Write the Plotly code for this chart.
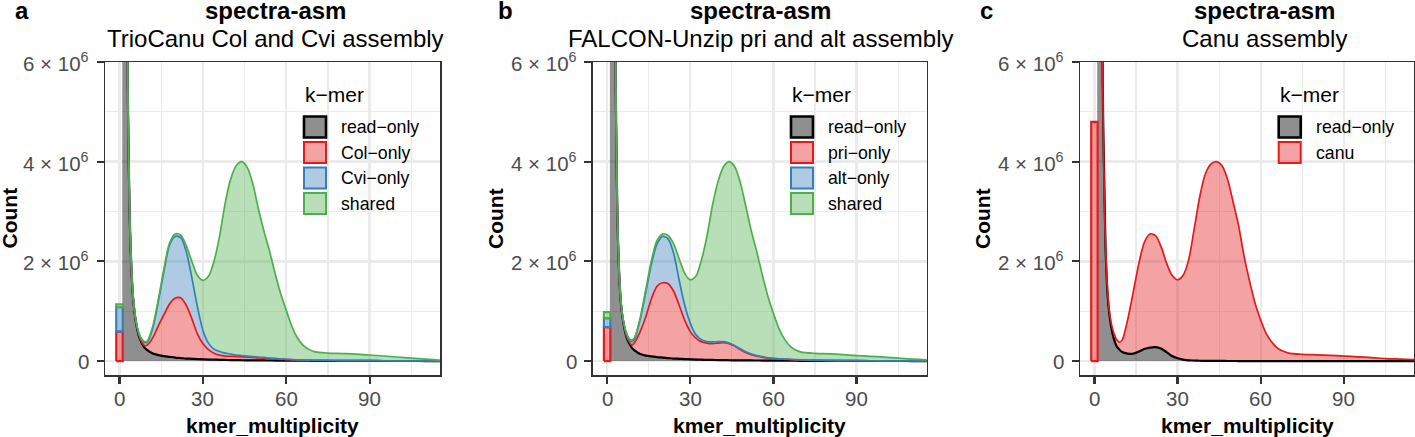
import numpy as np
import plotly.graph_objects as go

# ---------------- data (counts in millions of k-mers) ----------------
kmer_multiplicity = [1, 2, 3, 4, 5, 6, 7, 8, 9, 10,
                     12, 14, 16, 18, 20, 22, 24, 26, 28, 30,
                     32, 34, 36, 38, 40, 42, 44, 46, 48, 50,
                     52, 54, 56, 58, 60, 62, 64, 66, 68, 70,
                     75, 80, 85, 90, 95, 100, 105, 110, 115, 120]

# panel a: TrioCanu Col and Cvi assembly
a_read_only = [60, 20, 5.5, 2.3, 1.2, 0.75, 0.5, 0.36, 0.27, 0.22,
               0.15, 0.12, 0.10, 0.085, 0.07, 0.06, 0.05, 0.045, 0.04, 0.035,
               0.03, 0.028, 0.025, 0.022, 0.02, 0.018, 0.016, 0.015, 0.014, 0.013,
               0.012, 0.011, 0.01, 0.01, 0.009, 0.008, 0.007, 0.006, 0.006, 0.005,
               0.004, 0.003, 0.002, 0.002, 0.001, 0.001, 0.001, 0, 0, 0]
a_col_only = [0.05, 0.05, 0.03, 0.02, 0.02, 0.02, 0.02, 0.02, 0.04, 0.10,
              0.32, 0.59, 0.83, 1.06, 1.19, 1.21, 1.07, 0.81, 0.51, 0.315,
              0.20, 0.13, 0.095, 0.078, 0.075, 0.072, 0.069, 0.065, 0.061, 0.052,
              0.048, 0.039, 0.035, 0.025, 0.021, 0.017, 0.013, 0.011, 0.009, 0.008,
              0.007, 0.006, 0.005, 0.005, 0.004, 0.003, 0.003, 0.002, 0.002, 0.001]
a_cvi_only = [0.01, 0.01, 0.01, 0.01, 0.01, 0.01, 0.02, 0.04, 0.06, 0.06,
              0.19, 0.49, 0.87, 1.18, 1.24, 1.21, 1.08, 0.83, 0.55, 0.27,
              0.13, 0.082, 0.07, 0.06, 0.045, 0.03, 0.025, 0.02, 0.015, 0.015,
              0.012, 0.01, 0.008, 0.006, 0.005, 0.004, 0.003, 0.003, 0.002, 0.002,
              0.001, 0.001, 0.001, 0.001, 0.001, 0.001, 0, 0, 0, 0]
a_shared = [0.01, 0.01, 0.01, 0.01, 0.01, 0.01, 0.02, 0.02, 0.02, 0.02,
            0.04, 0.04, 0.05, 0.04, 0.05, 0.05, 0.12, 0.32, 0.62, 1.0,
            1.34, 1.76, 2.31, 3.0, 3.51, 3.80, 3.89, 3.78, 3.46, 2.97,
            2.53, 2.14, 1.70, 1.31, 0.985, 0.67, 0.445, 0.30, 0.222, 0.175,
            0.148, 0.14, 0.132, 0.113, 0.095, 0.076, 0.056, 0.038, 0.018, 0.008]
a_zero_counts = [0.59, 0.49, 0.06]          # Col-only, Cvi-only, shared at multiplicity 0

# panel b: FALCON-Unzip pri and alt assembly
b_read_only = [60, 20, 6.2, 2.3, 1.15, 0.72, 0.48, 0.35, 0.26, 0.21,
               0.14, 0.11, 0.095, 0.08, 0.07, 0.06, 0.05, 0.045, 0.04, 0.035,
               0.03, 0.027, 0.024, 0.022, 0.02, 0.018, 0.016, 0.015, 0.014, 0.013,
               0.012, 0.011, 0.01, 0.01, 0.009, 0.008, 0.007, 0.006, 0.006, 0.005,
               0.004, 0.003, 0.002, 0.002, 0.001, 0.001, 0.001, 0, 0, 0]
b_pri_only = [0.05, 0.05, 0.03, 0.02, 0.02, 0.02, 0.03, 0.03, 0.06, 0.17,
              0.46, 0.79, 1.155, 1.42, 1.50, 1.49, 1.35, 1.075, 0.78, 0.555,
              0.43, 0.363, 0.336, 0.328, 0.34, 0.352, 0.334, 0.285, 0.216, 0.157,
              0.118, 0.089, 0.07, 0.05, 0.041, 0.032, 0.028, 0.024, 0.019, 0.015,
              0.011, 0.007, 0.006, 0.004, 0.004, 0.003, 0.002, 0.002, 0.002, 0.001]
b_alt_only = [0.01, 0.01, 0.01, 0.01, 0.01, 0.01, 0.02, 0.03, 0.07, 0.07,
              0.25, 0.49, 0.70, 0.85, 0.93, 0.90, 0.76, 0.50, 0.30, 0.17,
              0.07, 0.04, 0.03, 0.035, 0.03, 0.02, 0.012, 0.012, 0.015, 0.015,
              0.012, 0.01, 0.008, 0.006, 0.005, 0.005, 0.005, 0.004, 0.003, 0.003,
              0.002, 0.002, 0.001, 0.001, 0.001, 0.001, 0.001, 0.001, 0, 0]
b_shared = [0.01, 0.01, 0.01, 0.01, 0.01, 0.03, 0.03, 0.04, 0.03, 0.03,
            0.03, 0.06, 0.07, 0.07, 0.05, 0.07, 0.19, 0.43, 0.64, 0.87,
            1.17, 1.59, 2.11, 2.735, 3.21, 3.51, 3.64, 3.59, 3.35, 2.93,
            2.475, 2.08, 1.64, 1.235, 0.905, 0.605, 0.40, 0.266, 0.192, 0.157,
            0.138, 0.133, 0.121, 0.103, 0.089, 0.075, 0.056, 0.037, 0.023, 0.009]
b_zero_counts = [0.68, 0.18, 0.12]          # pri-only, alt-only, shared at multiplicity 0

# panel c: Canu assembly
c_read_only = [60, 20, 5.6, 2.3, 1.15, 0.7, 0.45, 0.3, 0.23, 0.18,
               0.15, 0.15, 0.19, 0.24, 0.27, 0.28, 0.25, 0.18, 0.10, 0.055,
               0.03, 0.015, 0.01, 0.006, 0.004, 0.003, 0.002, 0.002, 0.001, 0.001,
               0, 0, 0, 0, 0, 0, 0, 0, 0, 0,
               0, 0, 0, 0, 0, 0, 0, 0, 0, 0]
c_canu = [0.05, 0.05, 0.05, 0.05, 0.07, 0.08, 0.11, 0.13, 0.15, 0.24,
          0.68, 1.23, 1.76, 2.14, 2.28, 2.24, 2.05, 1.79, 1.62, 1.575,
          1.69, 2.015, 2.64, 3.29, 3.75, 3.95, 4.0, 3.92, 3.65, 3.2,
          2.72, 2.1, 1.6, 1.15, 0.82, 0.55, 0.38, 0.26, 0.2, 0.16,
          0.135, 0.125, 0.115, 0.10, 0.085, 0.07, 0.05, 0.04, 0.03, 0.015]
c_zero_counts = [4.80]                       # canu at multiplicity 0

x_ticks = [0, 30, 60, 90]
x_ticktext = ["0", "30", "60", "90"]
x_minor = [15, 45, 75, 105]
y_ticks = [0, 2, 4, 6]
y_minor = [1, 3, 5]
y_ticktext = ["0", "2 × 10<sup>6</sup>", "4 × 10<sup>6</sup>", "6 × 10<sup>6</sup>"]

# ---------------- style ----------------
W, H = 1415, 437
FONT = "Liberation Sans, Arial, Helvetica, sans-serif"
BLACK, RED, BLUE, GREEN = "#000000", "#E41A1C", "#377EB8", "#4DAF4A"
TICK_GREY = "#4D4D4D"
SCALE = 1e6


def rgba(hex_color, a):
    h = hex_color.lstrip("#")
    r, g, b = int(h[0:2], 16), int(h[2:4], 16), int(h[4:6], 16)
    return f"rgba({r},{g},{b},{a})"


def fill_of(color):
    return rgba(color, 0.44) if color == BLACK else rgba(color, 0.4)


def px_x(p):
    return p / W


def px_y(p):
    return 1 - p / H


panels = [
    dict(letter="a", letter_x=13, sub="TrioCanu Col and Cvi assembly", title_x=275,
         dom=(105, 440), leg_x=303, count_x=9,
         series=[("read−only", a_read_only, BLACK), ("Col−only", a_col_only, RED),
                 ("Cvi−only", a_cvi_only, BLUE), ("shared", a_shared, GREEN)],
         zero=a_zero_counts),
    dict(letter="b", letter_x=496, sub="FALCON-Unzip pri and alt assembly", title_x=760,
         dom=(592.7, 926.7), leg_x=790, count_x=495.5,
         series=[("read−only", b_read_only, BLACK), ("pri−only", b_pri_only, RED),
                 ("alt−only", b_alt_only, BLUE), ("shared", b_shared, GREEN)],
         zero=b_zero_counts),
    dict(letter="c", letter_x=978, sub="Canu assembly", title_x=1264.5,
         dom=(1080, 1414), leg_x=1277.7, count_x=982.5,
         series=[("read−only", c_read_only, BLACK), ("canu", c_canu, RED)],
         zero=c_zero_counts),
]

fig = go.Figure()
shapes, annotations = [], []
PLOT_TOP, PLOT_BOT = 62, 375
BAR_W = 2.3

for i, p in enumerate(panels):
    sfx = "" if i == 0 else str(i + 1)
    xa, ya = "x" + sfx, "y" + sfx
    x = np.array(kmer_multiplicity, dtype=float)

    # stacked areas
    for name, vals, color in p["series"]:
        fig.add_trace(go.Scatter(
            x=x, y=np.array(vals, dtype=float) * SCALE, mode="lines",
            stackgroup=f"g{i}", fillcolor=fill_of(color),
            line=dict(color=color, width=2.2 if color == BLACK else 1.7,
                      shape="spline", smoothing=0.8),
            name=name, showlegend=False, xaxis=xa, yaxis=ya, hoverinfo="skip"))

    # stacked bar at multiplicity 0 (drawn over the areas)
    base = 0.0
    bar_colors = [c for (_, _, c) in p["series"][1:]]
    for val, color in zip(p["zero"], bar_colors):
        top = base + val
        fig.add_trace(go.Scatter(
            x=[-BAR_W / 2, BAR_W / 2, BAR_W / 2, -BAR_W / 2, -BAR_W / 2],
            y=np.array([base, base, top, top, base]) * SCALE,
            mode="lines", fill="toself", fillcolor=rgba(color, 0.4),
            line=dict(color=color, width=2.2), showlegend=False,
            xaxis=xa, yaxis=ya, hoverinfo="skip"))
        base = top

    dom = [px_x(p["dom"][0]), px_x(p["dom"][1])]
    axis_common = dict(showline=True, mirror=True, linecolor="#333333", linewidth=1.5,
                       ticks="outside", ticklen=7, tickwidth=2.2, tickcolor="#333333",
                       showgrid=True, gridcolor="#EBEBEB", gridwidth=2.4, zeroline=False,
                       showticklabels=False, automargin=False, fixedrange=True)
    fig.update_layout(**{
        "xaxis" + sfx: dict(axis_common, domain=dom, range=[-5.2, 115.3],
                            tickmode="array", tickvals=x_ticks, anchor=ya,
                            minor=dict(tickvals=x_minor, showgrid=True, gridcolor="#EBEBEB",
                                       gridwidth=1.2, ticks="")),
        "yaxis" + sfx: dict(axis_common, domain=[px_y(PLOT_BOT), px_y(PLOT_TOP)],
                            range=[-0.28 * SCALE, 6.0 * SCALE], tickmode="array",
                            tickvals=[v * SCALE for v in y_ticks], anchor=xa,
                            minor=dict(tickvals=[v * SCALE for v in y_minor], showgrid=True,
                                       gridcolor="#EBEBEB", gridwidth=1.2, ticks="")),
    })

    # tick labels (placed on the axes' own data coordinates)
    for v, t in zip(y_ticks, y_ticktext):
        annotations.append(dict(text=t, xref="paper", yref=ya, x=px_x(p["dom"][0] - 14),
                                y=v * SCALE, xanchor="right", yanchor="middle",
                                font=dict(size=20.5, color=TICK_GREY, family=FONT)))
    for v, t in zip(x_ticks, x_ticktext):
        annotations.append(dict(text=t, xref=xa, yref="paper", x=v, y=px_y(398.5),
                                xanchor="center", yanchor="middle",
                                font=dict(size=20.5, color=TICK_GREY, family=FONT)))

    cx = (p["dom"][0] + p["dom"][1]) / 2
    # panel letter and titles
    annotations += [
        dict(text=f"<b>{p['letter']}</b>", x=px_x(p["letter_x"]), y=px_y(10.5),
             xanchor="left", yanchor="middle", font=dict(size=24, color="black", family=FONT)),
        dict(text="<b>spectra-asm</b>", x=px_x(p["title_x"]), y=px_y(10.5),
             xanchor="center", yanchor="middle", font=dict(size=24, color="black", family=FONT)),
        dict(text=p["sub"], x=px_x(p["title_x"]), y=px_y(38.5),
             xanchor="center", yanchor="middle", font=dict(size=24, color="black", family=FONT)),
        dict(text="<b>kmer_multiplicity</b>", x=px_x(cx), y=px_y(425),
             xanchor="center", yanchor="middle", font=dict(size=21, color="black", family=FONT)),
        dict(text="<b>Count</b>", x=px_x(p["count_x"]), y=px_y(218.5), textangle=-90,
             xanchor="center", yanchor="middle", font=dict(size=21, color="black", family=FONT)),
        dict(text="k−mer", x=px_x(p["leg_x"]), y=px_y(95), xanchor="left", yanchor="middle",
             font=dict(size=21, color="black", family=FONT)),
    ]
    # legend keys
    for j, (name, _, color) in enumerate(p["series"]):
        top = 115.5 + 25.5 * j
        shapes.append(dict(type="rect", xref="paper", yref="paper",
                           x0=px_x(p["leg_x"] + 1), x1=px_x(p["leg_x"] + 23),
                           y0=px_y(top + 22), y1=px_y(top + 1),
                           fillcolor=fill_of(color), line=dict(color=color,
                           width=2.6 if color == BLACK else 2), layer="above"))
        annotations.append(dict(text=name, x=px_x(p["leg_x"] + 36), y=px_y(top + 11.5),
                                xanchor="left", yanchor="middle",
                                font=dict(size=17.7, color="black", family=FONT)))

for a in annotations:
    a.setdefault("xref", "paper")
    a.setdefault("yref", "paper")
    a.update(showarrow=False)

fig.update_layout(width=W, height=H, margin=dict(l=0, r=0, t=0, b=0),
                  paper_bgcolor="white", plot_bgcolor="white", showlegend=False,
                  shapes=shapes, annotations=annotations,
                  font=dict(family=FONT, size=20, color="black"))

fig.write_html("out.html", config={"displayModeBar": False, "staticPlot": True},
               post_script="document.body.style.margin='0px';"
                           "document.body.style.padding='0px';"
                           "document.body.style.overflow='hidden';")
